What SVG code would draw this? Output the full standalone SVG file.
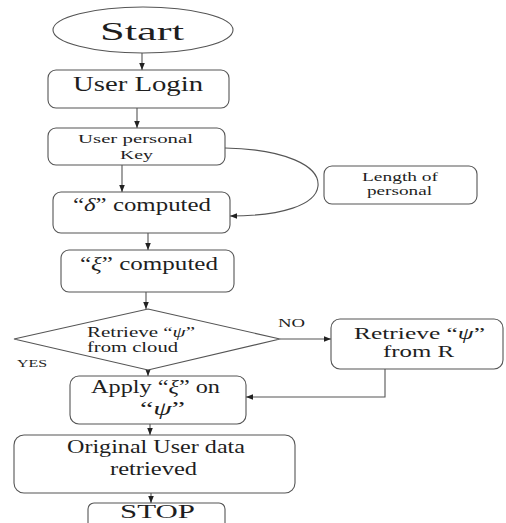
<svg xmlns="http://www.w3.org/2000/svg" width="506" height="523" viewBox="0 0 506 523">
  <defs>
    <marker id="arrow" viewBox="0 0 8 8" refX="8" refY="4" markerWidth="7" markerHeight="7" markerUnits="userSpaceOnUse" orient="auto">
      <path d="M0,0.8 L8,4 L0,7.2 Z" fill="#222"/>
    </marker>
    <style>
      .shape { fill: #ffffff; stroke: #555; stroke-width: 1.1; }
      .link { fill: none; stroke: #555; stroke-width: 1.1; marker-end: url(#arrow); }
      text { font-family: 'Liberation Serif', 'Times New Roman', serif; fill: #1e1e1e; }
      .g { font-style: italic; }
    </style>
  </defs>

  <rect width="506" height="523" fill="#ffffff"/>

  <!-- connectors -->
  <g id="connectors">
    <path class="link" d="M142,53 V70"/>
    <path class="link" d="M137,108 V128"/>
    <path class="link" d="M122,165 V192"/>
    <path class="link" d="M225,148 C285,149 320,166 318,186 C316,205 282,216 230,216"/>
    <path class="link" d="M148,233 V250"/>
    <path class="link" d="M146,292 V309"/>
    <path class="link" d="M148,370 V376"/>
    <path class="link" d="M280,339 H331"/>
    <path class="link" d="M385,369 V397 H246"/>
    <path class="link" d="M150,424 V435"/>
    <path class="link" d="M151,493 V503"/>
  </g>

  <!-- edge labels -->
  <text x="278" y="327" font-size="12" textLength="27" lengthAdjust="spacingAndGlyphs">NO</text>
  <text x="17" y="367" font-size="11" textLength="30" lengthAdjust="spacingAndGlyphs">YES</text>

  <g id="start">
    <ellipse class="shape" cx="143" cy="30" rx="90" ry="23"/>
    <text x="100" y="40" font-size="26" textLength="84" lengthAdjust="spacingAndGlyphs">Start</text>
  </g>

  <g id="user-login">
    <rect class="shape" x="48" y="70" width="181" height="38" rx="8"/>
    <text x="73" y="91" font-size="20" textLength="130" lengthAdjust="spacingAndGlyphs">User Login</text>
  </g>

  <g id="personal-key">
    <rect class="shape" x="48" y="128" width="177" height="37" rx="8"/>
    <text x="78" y="143" font-size="13" textLength="115" lengthAdjust="spacingAndGlyphs">User personal</text>
    <text x="120" y="159" font-size="13" textLength="33" lengthAdjust="spacingAndGlyphs">Key</text>
  </g>

  <g id="key-length">
    <rect class="shape" x="324" y="166" width="153" height="38" rx="8"/>
    <text x="362" y="181" font-size="11.5" textLength="76" lengthAdjust="spacingAndGlyphs">Length of</text>
    <text x="367" y="195" font-size="11.5" textLength="65" lengthAdjust="spacingAndGlyphs">personal</text>
  </g>

  <g id="delta">
    <rect class="shape" x="53" y="192" width="177" height="41" rx="8"/>
    <text x="73" y="211" font-size="18" textLength="138" lengthAdjust="spacingAndGlyphs">“<tspan class="g">δ</tspan>” computed</text>
  </g>

  <g id="xi">
    <rect class="shape" x="61" y="250" width="173" height="42" rx="8"/>
    <text x="80" y="270" font-size="18" textLength="138" lengthAdjust="spacingAndGlyphs">“<tspan class="g">ξ</tspan>” computed</text>
  </g>

  <g id="decision">
    <polygon class="shape" points="148,309 280,339 148,370 14,339"/>
    <text x="87" y="337" font-size="14" textLength="108" lengthAdjust="spacingAndGlyphs">Retrieve “<tspan class="g">ψ</tspan>”</text>
    <text x="87" y="352" font-size="14" textLength="91" lengthAdjust="spacingAndGlyphs">from cloud</text>
  </g>

  <g id="from-r">
    <rect class="shape" x="331" y="319" width="172" height="50" rx="9"/>
    <text x="354" y="339" font-size="17" textLength="131" lengthAdjust="spacingAndGlyphs">Retrieve “<tspan class="g">ψ</tspan>”</text>
    <text x="383" y="357" font-size="17" textLength="71" lengthAdjust="spacingAndGlyphs">from R</text>
  </g>

  <g id="apply">
    <rect class="shape" x="70" y="376" width="176" height="48" rx="9"/>
    <text x="91" y="393" font-size="18" textLength="129" lengthAdjust="spacingAndGlyphs">Apply “<tspan class="g">ξ</tspan>” on</text>
    <text x="140" y="415" font-size="18" textLength="45" lengthAdjust="spacingAndGlyphs">“<tspan class="g">ψ</tspan>”</text>
  </g>

  <g id="original-data">
    <rect class="shape" x="14" y="435" width="281" height="58" rx="10"/>
    <text x="67" y="453" font-size="18" textLength="178" lengthAdjust="spacingAndGlyphs">Original User data</text>
    <text x="110" y="475" font-size="18" textLength="87" lengthAdjust="spacingAndGlyphs">retrieved</text>
  </g>

  <g id="stop">
    <rect class="shape" x="88" y="503" width="137" height="32" rx="6"/>
    <text x="120" y="518" font-size="18" textLength="75" lengthAdjust="spacingAndGlyphs">STOP</text>
  </g>
</svg>
